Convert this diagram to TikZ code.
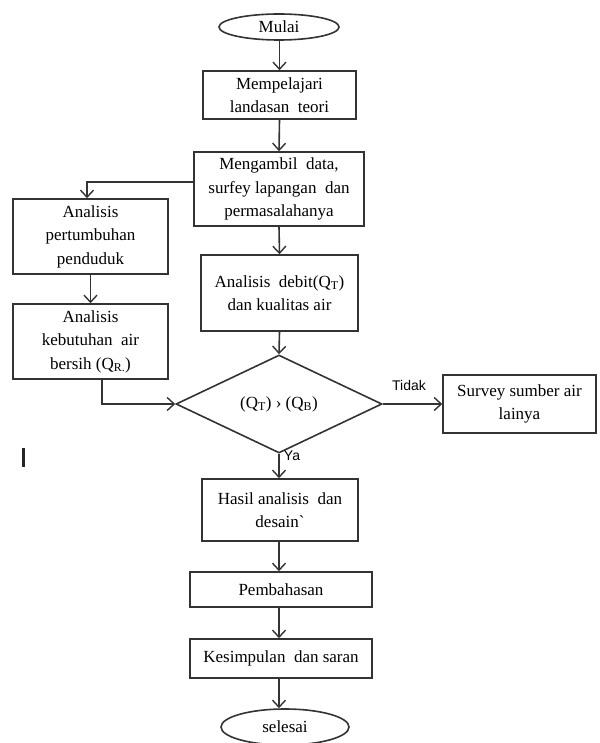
\documentclass[tikz,border=0pt]{standalone}
\usepackage{fontspec}
\setmainfont{Liberation Serif}
\newfontfamily\lblfont{Liberation Sans}
\usetikzlibrary{shapes.geometric,arrows.meta}
\tikzset{
  line/.style={draw=black!80, line width=1.6pt},
  arr/.style={line, -{Straight Barb[length=7pt,width=13pt,line width=1.4pt]}},
  box/.style={line, rectangle, align=center, inner sep=0pt,
    font=\fontsize{17}{23.5}\selectfont, text=black},
  term/.style={line, ellipse, inner sep=0pt, font=\fontsize{17}{20}\selectfont},
  lbl/.style={font=\lblfont\fontsize{14}{16}\selectfont, inner sep=0pt},
}
\begin{document}
\begin{tikzpicture}[x=1pt,y=-1pt]
\useasboundingbox (0,0) rectangle (599,743);
\clip (0,0) rectangle (599,743);
\node[term, minimum width=120pt, minimum height=26pt] (mulai) at (279,27) {Mulai};
\node[box, minimum width=153pt, minimum height=48pt] (b1) at (279.5,95) {Mempelajari\\landasan\ \ teori};
\node[box, minimum width=170pt, minimum height=74pt] (b2) at (279,189) {Mengambil\ \ data,\\surfey lapangan\ \ dan\\permasalahanya};
\node[box, minimum width=155pt, minimum height=75pt] (b3) at (90.5,236.5) {Analisis\\pertumbuhan\\penduduk};
\node[box, minimum width=155pt, minimum height=75pt] (b4) at (90.5,341.5) {Analisis\\kebutuhan\ \ air\\bersih (Q\textsubscript{R.})};
\node[box, minimum width=157pt, minimum height=76pt] (b5) at (279.5,293) {Analisis\ \ debit(Q\textsubscript{T})\\dan kualitas air};
\node[line, diamond, inner sep=0pt, minimum width=206pt, minimum height=98pt, shape aspect=2.1,
  font=\fontsize{17}{20}\selectfont] (dia) at (279,404) {(Q\textsubscript{T}) › (Q\textsubscript{B})};
\node[box, minimum width=153pt, minimum height=58pt] (sv) at (519.5,404) {Survey sumber air\\lainya};
\node[box, minimum width=156pt, minimum height=62pt] (b6) at (280,510) {Hasil analisis\ \ dan\\desain\textasciigrave};
\node[box, minimum width=182pt, minimum height=35pt] (b7) at (281,589.5) {Pembahasan};
\node[box, minimum width=182pt, minimum height=39pt] (b8) at (281,658.5) {Kesimpulan\ \ dan saran};
\node[term, minimum width=128pt, minimum height=36pt] (selesai) at (285,727) {selesai};
\fill[black!85] (21.5,448) rectangle (24.5,467);

\coordinate (c1) at (194,182);
\coordinate (c2) at (87,182);
\coordinate (c3) at (102,379);
\coordinate (c4) at (102,404);

\draw[arr] (mulai.south -| b1.north) -- (b1.north);
\draw[arr] (b1.south) -- (b2.north);
\draw[arr] (c1) -- (c2) -- (c2 |- b3.north);
\draw[arr] (b3.south) -- (b4.north);
\draw[arr] (b2.south) -- (b5.north);
\draw[arr] (b5.south) -- (dia.north);
\draw[arr] (c3) -- (c4) -- (dia.west);
\draw[arr] (dia.east) -- (sv.west);
\node[lbl] (tidak) at (409,385) {Tidak};
\draw[arr] (dia.south) -- (dia.south |- b6.north);
\node[lbl] (ya) at (292,456) {Ya};
\draw[arr] (b6.south -| dia.south) -- (dia.south |- b7.north);
\draw[arr] (b7.south -| dia.south) -- (dia.south |- b8.north);
\draw[arr] (b8.south -| dia.south) -- (dia.south |- selesai.north);
\end{tikzpicture}
\end{document}
